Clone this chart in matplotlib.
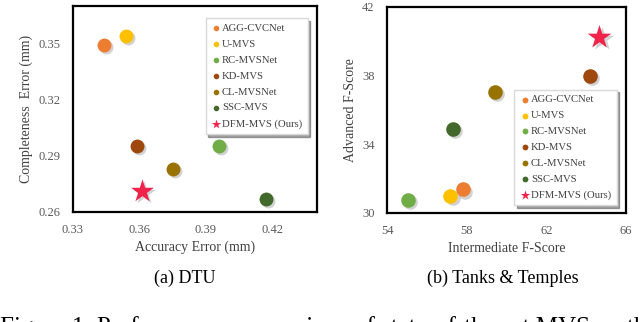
import matplotlib.pyplot as plt
import matplotlib.transforms as mtransforms

plt.rcParams['font.family'] = ['Liberation Serif', 'DejaVu Serif']

methods = ["AGG-CVCNet", "U-MVS", "RC-MVSNet", "KD-MVS", "CL-MVSNet", "SSC-MVS", "DFM-MVS (Ours)"]
colors = ["#ED7D31", "#FFC000", "#70AD47", "#9E480E", "#997300", "#43682B", "#F0234B"]

# DTU: accuracy / completeness error (mm)
dtu_acc = [0.344, 0.354, 0.396, 0.359, 0.375, 0.417, 0.361]
dtu_comp = [0.349, 0.354, 0.295, 0.295, 0.283, 0.267, 0.271]

# Tanks & Temples: intermediate / advanced F-score
tt_inter = [57.81, 57.18, 55.05, 64.17, 59.40, 57.30, 64.67]
tt_adv = [31.36, 30.97, 30.77, 37.96, 37.02, 34.89, 40.25]

fig = plt.figure(figsize=(6.4, 3.22), dpi=100)
ax1 = fig.add_axes([0.114, 0.342, 0.381, 0.640])
ax2 = fig.add_axes([0.605, 0.339, 0.373, 0.640])


def draw(ax, xs, ys, circle_size, star_size):
    shadow = mtransforms.offset_copy(ax.transData, fig=fig, x=1.5, y=-1.5, units='points')
    for i, name in enumerate(methods):
        is_star = name.startswith("DFM")
        marker = "*" if is_star else "o"
        size = star_size if is_star else circle_size
        ax.scatter(xs[i], ys[i], s=size, marker=marker, color="#7f7f7f", alpha=0.35,
                   linewidths=0, transform=shadow, zorder=2)
        ax.scatter(xs[i], ys[i], s=size, marker=marker, color=colors[i],
                   linewidths=0, label=name, zorder=3)
    for sp in ax.spines.values():
        sp.set_linewidth(1.6)
        sp.set_color("black")
    ax.tick_params(length=0, labelsize=9, labelcolor="#595959")
    ax.tick_params(axis="x", pad=9)
    ax.tick_params(axis="y", pad=9)


draw(ax1, dtu_acc, dtu_comp, 100, 300)
ax1.set_xlim(0.33, 0.44)
ax1.set_ylim(0.26, 0.37)
ax1.set_xticks([0.33, 0.36, 0.39, 0.42])
ax1.set_yticks([0.26, 0.29, 0.32, 0.35])
ax1.set_xlabel("Accuracy Error (mm)", fontsize=10, color="#404040", labelpad=3)
ax1.set_ylabel("Completeness  Error (mm)", fontsize=10, color="#404040", labelpad=4)

draw(ax2, tt_inter, tt_adv, 110, 320)
ax2.set_xlim(54, 66)
ax2.set_ylim(30, 42)
ax2.set_xticks([54, 58, 62, 66])
ax2.set_yticks([30, 34, 38, 42])
ax2.set_xlabel("Intermediate F-Score", fontsize=10, color="#404040", labelpad=3)
ax2.set_ylabel("Advanced F-Score", fontsize=10, color="#404040", labelpad=4)

leg_kw = dict(fontsize=7.7, markerscale=0.4, handletextpad=0.05, handlelength=1.0,
              labelspacing=0.6, borderpad=0.5, fancybox=False, shadow=True,
              framealpha=1, edgecolor="#d9d9d9", labelcolor="#404040")
l1 = ax1.legend(loc="upper right", bbox_to_anchor=(0.984, 0.966), **leg_kw)
l2 = ax2.legend(loc="lower right", bbox_to_anchor=(0.983, 0.01), **leg_kw)

fig.text(0.289, 0.137, "(a) DTU", ha="center", va="center", fontsize=13)
fig.text(0.786, 0.137, "(b) Tanks & Temples", ha="center", va="center", fontsize=13)
# caption runs off the bottom/right edge, as in the source image
fig.text(0.0, 0.02, "Figure 1. Performance comparison of state-of-the-art MVS methods",
         ha="left", va="top", fontsize=18)

fig.savefig("out.png", dpi=100)
